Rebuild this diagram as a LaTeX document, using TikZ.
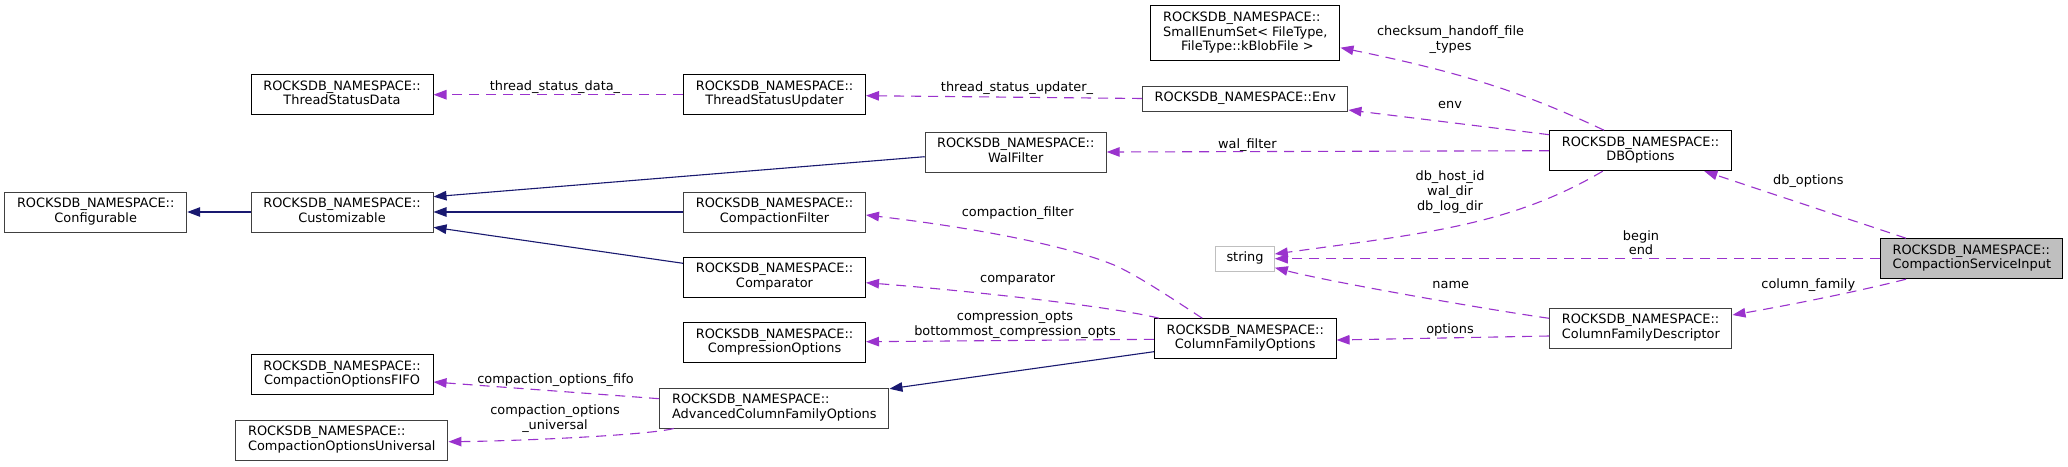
\documentclass[tikz,border=0pt]{standalone}
\usepackage{fontspec}
\setmainfont{DejaVu Sans}
\usetikzlibrary{arrows.meta}
\definecolor{edgeblue}{HTML}{191970}
\definecolor{orchid}{HTML}{9A32CD}
\definecolor{boxgray}{HTML}{404040}
\definecolor{lightgray}{HTML}{BFBFBF}
\newcommand{\dxfont}{\fontsize{12.9}{14.7}\selectfont}
\newcommand{\nsl}[1]{\begin{tabular}{@{}l@{}}ROCKSDB\_NAMESPACE::\\\multicolumn{1}{@{}c@{}}{#1}\end{tabular}}
\newcommand{\clines}[1]{\begin{tabular}{@{}c@{}}#1\end{tabular}}
\tikzset{
  box/.style={draw=black, line width=1pt, fill=white, inner sep=0pt, minimum height=40pt, font=\dxfont, text=black},
  gbox/.style={box, draw=boxgray},
  inh/.style={color=edgeblue, line width=1.1pt, -{Triangle[length=13pt,width=9.5pt]}},
  use/.style={color=orchid, line width=1.1pt, dash pattern=on 10pt off 7pt, -{Triangle[length=13pt,width=9.5pt]}},
  elab/.style={inner sep=0pt, font=\dxfont, text=black}
}
\begin{document}
\begin{tikzpicture}[x=1pt,y=-1pt]
\fill[white] (0,0) rectangle (2068,466);
\useasboundingbox (0,0) rectangle (2068,466);
% nodes
\node[gbox, minimum width=182pt] (conf) at (95.7,212) {\nsl{Configurable}};
\node[gbox, minimum width=182pt] (cust) at (342,212) {\nsl{Customizable}};
\node[box, minimum width=182pt] (tsd) at (342,94.7) {\nsl{ThreadStatusData}};
\node[box, minimum width=182pt] (tsu) at (774.5,94.7) {\nsl{ThreadStatusUpdater}};
\node[gbox, minimum width=181pt] (wal) at (1015.7,152) {\nsl{WalFilter}};
\node[gbox, minimum width=182pt] (cfil) at (774.5,212) {\nsl{CompactionFilter}};
\node[box, minimum width=182pt] (comp) at (774.5,277.3) {\nsl{Comparator}};
\node[box, minimum width=182pt] (cmpo) at (774.5,342.7) {\nsl{CompressionOptions}};
\node[gbox, minimum width=229.3pt] (acfo) at (774.3,408) {\nsl{AdvancedColumnFamilyOptions}};
\node[box, minimum width=182pt] (fifo) at (342,374.7) {\nsl{CompactionOptionsFIFO}};
\node[gbox, minimum width=212.3pt] (univ) at (341.8,440) {\nsl{CompactionOptionsUniversal}};
\node[box, minimum width=189.3pt, minimum height=55pt] (sme) at (1245.3,33.2)
  {\begin{tabular}{@{}l@{}}ROCKSDB\_NAMESPACE::\\SmallEnumSet< FileType,\\\multicolumn{1}{@{}c@{}}{\ FileType::kBlobFile >}\end{tabular}};
\node[gbox, minimum width=205.3pt, minimum height=25pt] (env) at (1245.3,98.5) {\clines{ROCKSDB\_NAMESPACE::Env}};
\node[box, draw=lightgray, minimum width=58.6pt, minimum height=25.3pt] (str) at (1245,258.7) {\clines{string}};
\node[box, minimum width=181.7pt] (cfo) at (1245.2,338.7) {\nsl{ColumnFamilyOptions}};
\node[box, minimum width=181.6pt] (dbo) at (1640.5,150.7) {\nsl{DBOptions}};
\node[gbox, minimum width=182.3pt] (cfd) at (1640.8,328) {\nsl{ColumnFamilyDescriptor}};
\node[box, fill=lightgray, minimum width=181.7pt] (csi) at (1971.8,258.7) {\nsl{CompactionServiceInput}};
% inheritance
\draw[inh] (cust.west) -- (conf.east);
\draw[inh] ([yshift=-4.7pt]wal.west) -- ([yshift=15.3pt]cust.east);
\draw[inh] (cfil.west) -- (cust.east);
\draw[inh] ([yshift=14pt]comp.west) -- ([yshift=-15.3pt]cust.east);
\draw[inh] ([yshift=-13pt]cfo.west) -- ([yshift=-1.3pt]acfo.north east);
% usage
\draw[use] (tsu.west) -- (tsd.east);
\draw[use] (env.west) -- ([yshift=-1pt]tsu.east);
\draw[use] ([xshift=-36.5pt]dbo.north) .. controls (1530,95.5) and (1470,74) .. ([yshift=-14.5pt]sme.east);
\draw[use] ([yshift=16pt]dbo.west) -- ([yshift=-11.5pt]env.east);
\draw[use] (dbo.west) -- (wal.east);
\draw[use] ([xshift=-37.8pt]dbo.south) .. controls (1510,226) and (1420,234) .. ([yshift=4.7pt]str.east);
\draw[use] ([xshift=-65.8pt]csi.north) -- ([xshift=63.8pt]dbo.south);
\draw[use] (csi.west) -- (str.east);
\draw[use] ([xshift=-65.8pt]csi.south) .. controls (1860,291) and (1790,305) .. ([yshift=13pt]cfd.east);
\draw[use] ([yshift=9.7pt]cfd.west) .. controls (1490,310) and (1330,282) .. ([yshift=-9pt]str.east);
\draw[use] ([yshift=-8pt]cfd.west) -- ([yshift=-1.3pt]cfo.east);
\draw[use] ([xshift=-43pt]cfo.north) .. controls (1170,297) and (1135,274) .. (1114,265) .. controls (1060,243) and (960,226) .. ([yshift=-3pt]cfil.east);
\draw[use] ([xshift=-86.2pt]cfo.north) .. controls (1110,306) and (960,290) .. ([yshift=-5.4pt]comp.east);
\draw[use] ([yshift=-0.6pt]cfo.west) -- ([yshift=1pt]cmpo.east);
\draw[use] ([yshift=9.3pt]acfo.west) -- ([yshift=-7.3pt]fifo.east);
\draw[use] ([xshift=-100.6pt]acfo.south) .. controls (650,435) and (520,441) .. ([yshift=-1.7pt]univ.east);
% edge labels
\node[elab] (l1) at (555,88) {\clines{thread\_status\_data\_}};
\node[elab] (l2) at (1017,88.7) {\clines{thread\_status\_updater\_}};
\node[elab] (l3) at (1450.5,40.3) {\clines{checksum\_handoff\_file\\\_types}};
\node[elab] (l4) at (1450,106) {\clines{env}};
\node[elab] (l5) at (1247.3,145.7) {\clines{wal\_filter}};
\node[elab] (l6) at (1450,192.4) {\clines{db\_host\_id\\wal\_dir\\db\_log\_dir}};
\node[elab] (l7) at (1808.3,182) {\clines{db\_options}};
\node[elab] (l8) at (1641,244.7) {\clines{begin\\end}};
\node[elab] (l9) at (1808.3,286) {\clines{column\_family}};
\node[elab] (l10) at (1450.7,285.3) {\clines{name}};
\node[elab] (l11) at (1450,330.3) {\clines{options}};
\node[elab] (l12) at (1017.7,213.7) {\clines{compaction\_filter}};
\node[elab] (l13) at (1017.7,280) {\clines{comparator}};
\node[elab] (l14) at (1015,325.3) {\clines{compression\_opts\\bottommost\_compression\_opts}};
\node[elab] (l15) at (555.5,380.3) {\clines{compaction\_options\_fifo}};
\node[elab] (l16) at (555,419.3) {\clines{compaction\_options\\\_universal}};
\end{tikzpicture}
\end{document}
